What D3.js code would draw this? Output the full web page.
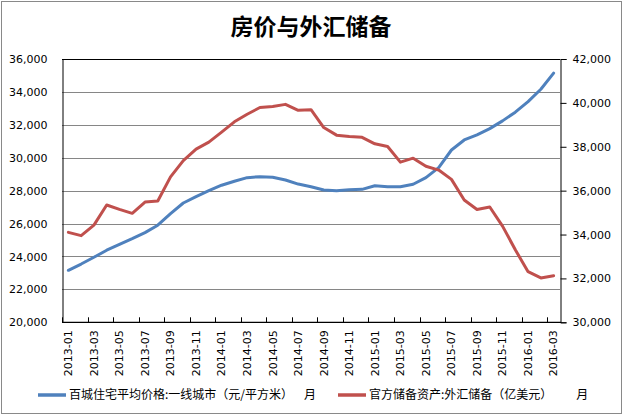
<!DOCTYPE html>
<html>
<head>
<meta charset="utf-8">
<script src="https://cdn.jsdelivr.net/npm/d3@7"></script>
<style>
  body { margin: 0; background: #fff; }
  svg { display: block; }
</style>
</head>
<body>
<svg id="chart" width="624" height="418"></svg>
<script>
const title = "房价与外汇储备";
const months = [
  "2013-01","2013-02","2013-03","2013-04","2013-05","2013-06","2013-07","2013-08","2013-09","2013-10","2013-11","2013-12",
  "2014-01","2014-02","2014-03","2014-04","2014-05","2014-06","2014-07","2014-08","2014-09","2014-10","2014-11","2014-12",
  "2015-01","2015-02","2015-03","2015-04","2015-05","2015-06","2015-07","2015-08","2015-09","2015-10","2015-11","2015-12",
  "2016-01","2016-02","2016-03"
];
const housePrice = [
  23160, 23540, 23950, 24380, 24740, 25080, 25450, 25900, 26600, 27250, 27640, 28000,
  28330, 28570, 28790, 28850, 28810, 28650, 28400, 28240, 28040, 28000, 28060, 28080,
  28300, 28240, 28240, 28390, 28790, 29400, 30470, 31080, 31390, 31770, 32240, 32770,
  33410, 34160, 35140
];
const fxReserve = [
  34100, 33950, 34427, 35345, 35148, 34967, 35478, 35530, 36627, 37366, 37895, 38213,
  38666, 39137, 39481, 39788, 39839, 39932, 39660, 39688, 38877, 38530, 38473, 38430,
  38134, 38015, 37300, 37481, 37111, 36938, 36513, 35574, 35141, 35255, 34383, 33304,
  32309, 32023, 32126
];
const leftTicks = [20000, 22000, 24000, 26000, 28000, 30000, 32000, 34000, 36000];
const rightTicks = [30000, 32000, 34000, 36000, 38000, 40000, 42000];
const legendLabels = ["百城住宅平均价格:一线城市（元/平方米）", "官方储备资产:外汇储备（亿美元）"];
const legendSuffix = "月";
const colors = ["#4F81BD", "#C0504D"];

const svg = d3.select("#chart");
const L = 62, R = 560, T = 59, B = 322.3;

// outer frame
svg.append("rect").attr("x", 1.5).attr("y", 1.5).attr("width", 620).attr("height", 412)
  .attr("fill", "#fff").attr("stroke", "#898989").attr("stroke-width", 1);

// title
svg.append("text").attr("x", 311).attr("y", 35).attr("text-anchor", "middle")
  .attr("font-family", "'Noto Sans CJK SC', sans-serif").attr("font-weight", "bold")
  .attr("font-size", 23).attr("fill", "#000").text(title);

const x = d3.scaleBand().domain(months).range([L, R]);
const yL = d3.scaleLinear().domain([20000, 36000]).range([B, T]);
const yR = d3.scaleLinear().domain([30000, 42000]).range([B, T]);

// gridlines
svg.append("g").selectAll("line").data(leftTicks.slice(1, -1)).join("line")
  .attr("x1", L).attr("x2", R)
  .attr("y1", d => Math.round(yL(d)) + 0.5).attr("y2", d => Math.round(yL(d)) + 0.5)
  .attr("stroke", "#868686").attr("stroke-width", 1);

// plot border top
svg.append("line").attr("x1", L).attr("x2", R).attr("y1", T + 0.5).attr("y2", T + 0.5)
  .attr("stroke", "#000");

// left axis
const leftAxis = d3.axisLeft(yL).tickValues(leftTicks).tickSize(0).tickPadding(15)
  .tickFormat(d3.format(","));
const gL = svg.append("g").attr("transform", `translate(${L + 0.5},0)`).call(leftAxis);
gL.select(".domain").attr("stroke", "#000");
gL.selectAll("text").attr("font-family", "'DejaVu Sans', Verdana, sans-serif").attr("font-size", 11).attr("fill", "#000");

// right axis
const rightAxis = d3.axisRight(yR).tickValues(rightTicks).tickSize(6).tickPadding(6)
  .tickFormat(d3.format(","));
const gR = svg.append("g").attr("transform", `translate(${R + 0.5},0)`).call(rightAxis);
gR.select(".domain").attr("stroke", "#000");
gR.selectAll(".tick line").attr("stroke", "#000");
gR.selectAll("text").attr("font-family", "'DejaVu Sans', Verdana, sans-serif").attr("font-size", 11).attr("fill", "#000");

// bottom axis
svg.append("line").attr("x1", L).attr("x2", R + 1).attr("y1", B).attr("y2", B)
  .attr("stroke", "#000").attr("stroke-width", 1.2);
const bx = months.filter((m, i) => i % 2 === 0);
svg.append("g").selectAll("line").data(bx).join("line")
  .attr("x1", d => Math.round(x(d)) + 0.5).attr("x2", d => Math.round(x(d)) + 0.5)
  .attr("y1", B).attr("y2", B - 5).attr("stroke", "#000");
svg.append("g").selectAll("text").data(bx).join("text")
  .attr("transform", d => `translate(${x(d) + x.bandwidth() / 2},${B + 8}) rotate(-90)`)
  .attr("text-anchor", "end").attr("dy", "0.35em")
  .attr("font-family", "'DejaVu Sans', Verdana, sans-serif").attr("font-size", 11)
  .attr("fill", "#000").text(d => d);

// lines
const cx = (d, i) => x(months[i]) + x.bandwidth() / 2;
const lineL = d3.line().x(cx).y(d => yL(d));
const lineR = d3.line().x(cx).y(d => yR(d));
svg.append("path").datum(housePrice).attr("d", lineL).attr("fill", "none")
  .attr("stroke", colors[0]).attr("stroke-width", 3).attr("stroke-linejoin", "round").attr("stroke-linecap", "round");
svg.append("path").datum(fxReserve).attr("d", lineR).attr("fill", "none")
  .attr("stroke", colors[1]).attr("stroke-width", 3).attr("stroke-linejoin", "round").attr("stroke-linecap", "round");

// legend
const legX = [38, 338];
const suffixGap = [11, 24];
legendLabels.forEach((lab, i) => {
  svg.append("line").attr("x1", legX[i]).attr("x2", legX[i] + 28).attr("y1", 395).attr("y2", 395)
    .attr("stroke", colors[i]).attr("stroke-width", 3.5);
  const t = svg.append("text").attr("x", legX[i] + 31).attr("y", 399)
    .attr("font-family", "'Noto Sans CJK SC', sans-serif").attr("font-size", 12).attr("fill", "#000");
  t.append("tspan").text(lab);
  t.append("tspan").attr("dx", suffixGap[i]).text(legendSuffix);
});
</script>
</body>
</html>
